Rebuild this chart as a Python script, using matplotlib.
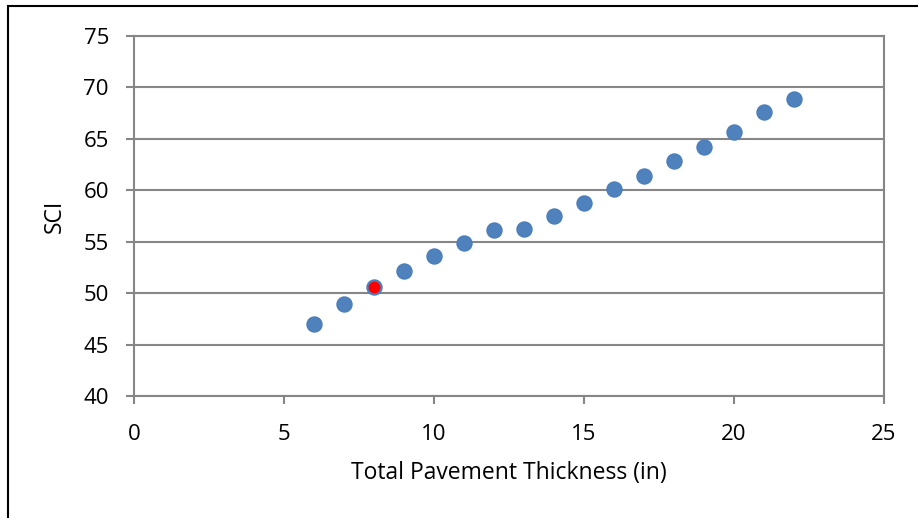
import matplotlib.pyplot as plt
from matplotlib.patches import Rectangle

# data
thickness = [6, 7, 8, 9, 10, 11, 12, 13, 14, 15, 16, 17, 18, 19, 20, 21, 22]
sci = [47.0, 48.9, 50.6, 52.2, 53.6, 54.9, 56.1, 56.2, 57.5, 58.8, 60.1, 61.4, 62.8, 64.2, 65.7, 67.6, 68.9]
highlight_x = [8]
highlight_y = [50.6]

x_ticks = [0, 5, 10, 15, 20, 25]
y_ticks = [40, 45, 50, 55, 60, 65, 70, 75]

plt.rcParams['font.family'] = ['Open Sans', 'DejaVu Sans']
grey = "#868686"

fig = plt.figure(figsize=(9.18, 5.18), dpi=100)
W, H = 918, 518
ax = fig.add_axes([134 / W, 1 - 396 / H, 750 / W, 360 / H])

ax.plot(thickness, sci, 'o', color="#4F81BD", markeredgecolor="#4A7EBB",
        markersize=10.8, zorder=3)
ax.plot(highlight_x, highlight_y, 'o', color="red", markeredgecolor="red",
        markersize=7.5, zorder=4)

ax.set_xlim(0, 25)
ax.set_ylim(40, 75)
ax.set_xticks(x_ticks)
ax.set_yticks(y_ticks)
ax.yaxis.grid(True, color=grey, linewidth=1.5)
ax.set_axisbelow(True)
for s in ax.spines.values():
    s.set_color(grey)
    s.set_linewidth(1.5)
ax.tick_params(direction='out', length=6, width=1.5, color=grey,
               labelsize=16)
ax.tick_params(axis='y', pad=12)
ax.tick_params(axis='x', pad=14)

ax.set_xlabel("Total Pavement Thickness (in)", fontsize=16.5, labelpad=12)
ax.set_ylabel("SCI", fontsize=16.5, labelpad=12)

# outer chart frame
fig.patches.append(Rectangle((8 / W, -0.1), 1.2, 1 - 6 / H + 0.1,
                             transform=fig.transFigure, fill=False,
                             edgecolor="black", linewidth=1.5))

fig.savefig("out.png", dpi=100)
plt.close(fig)
